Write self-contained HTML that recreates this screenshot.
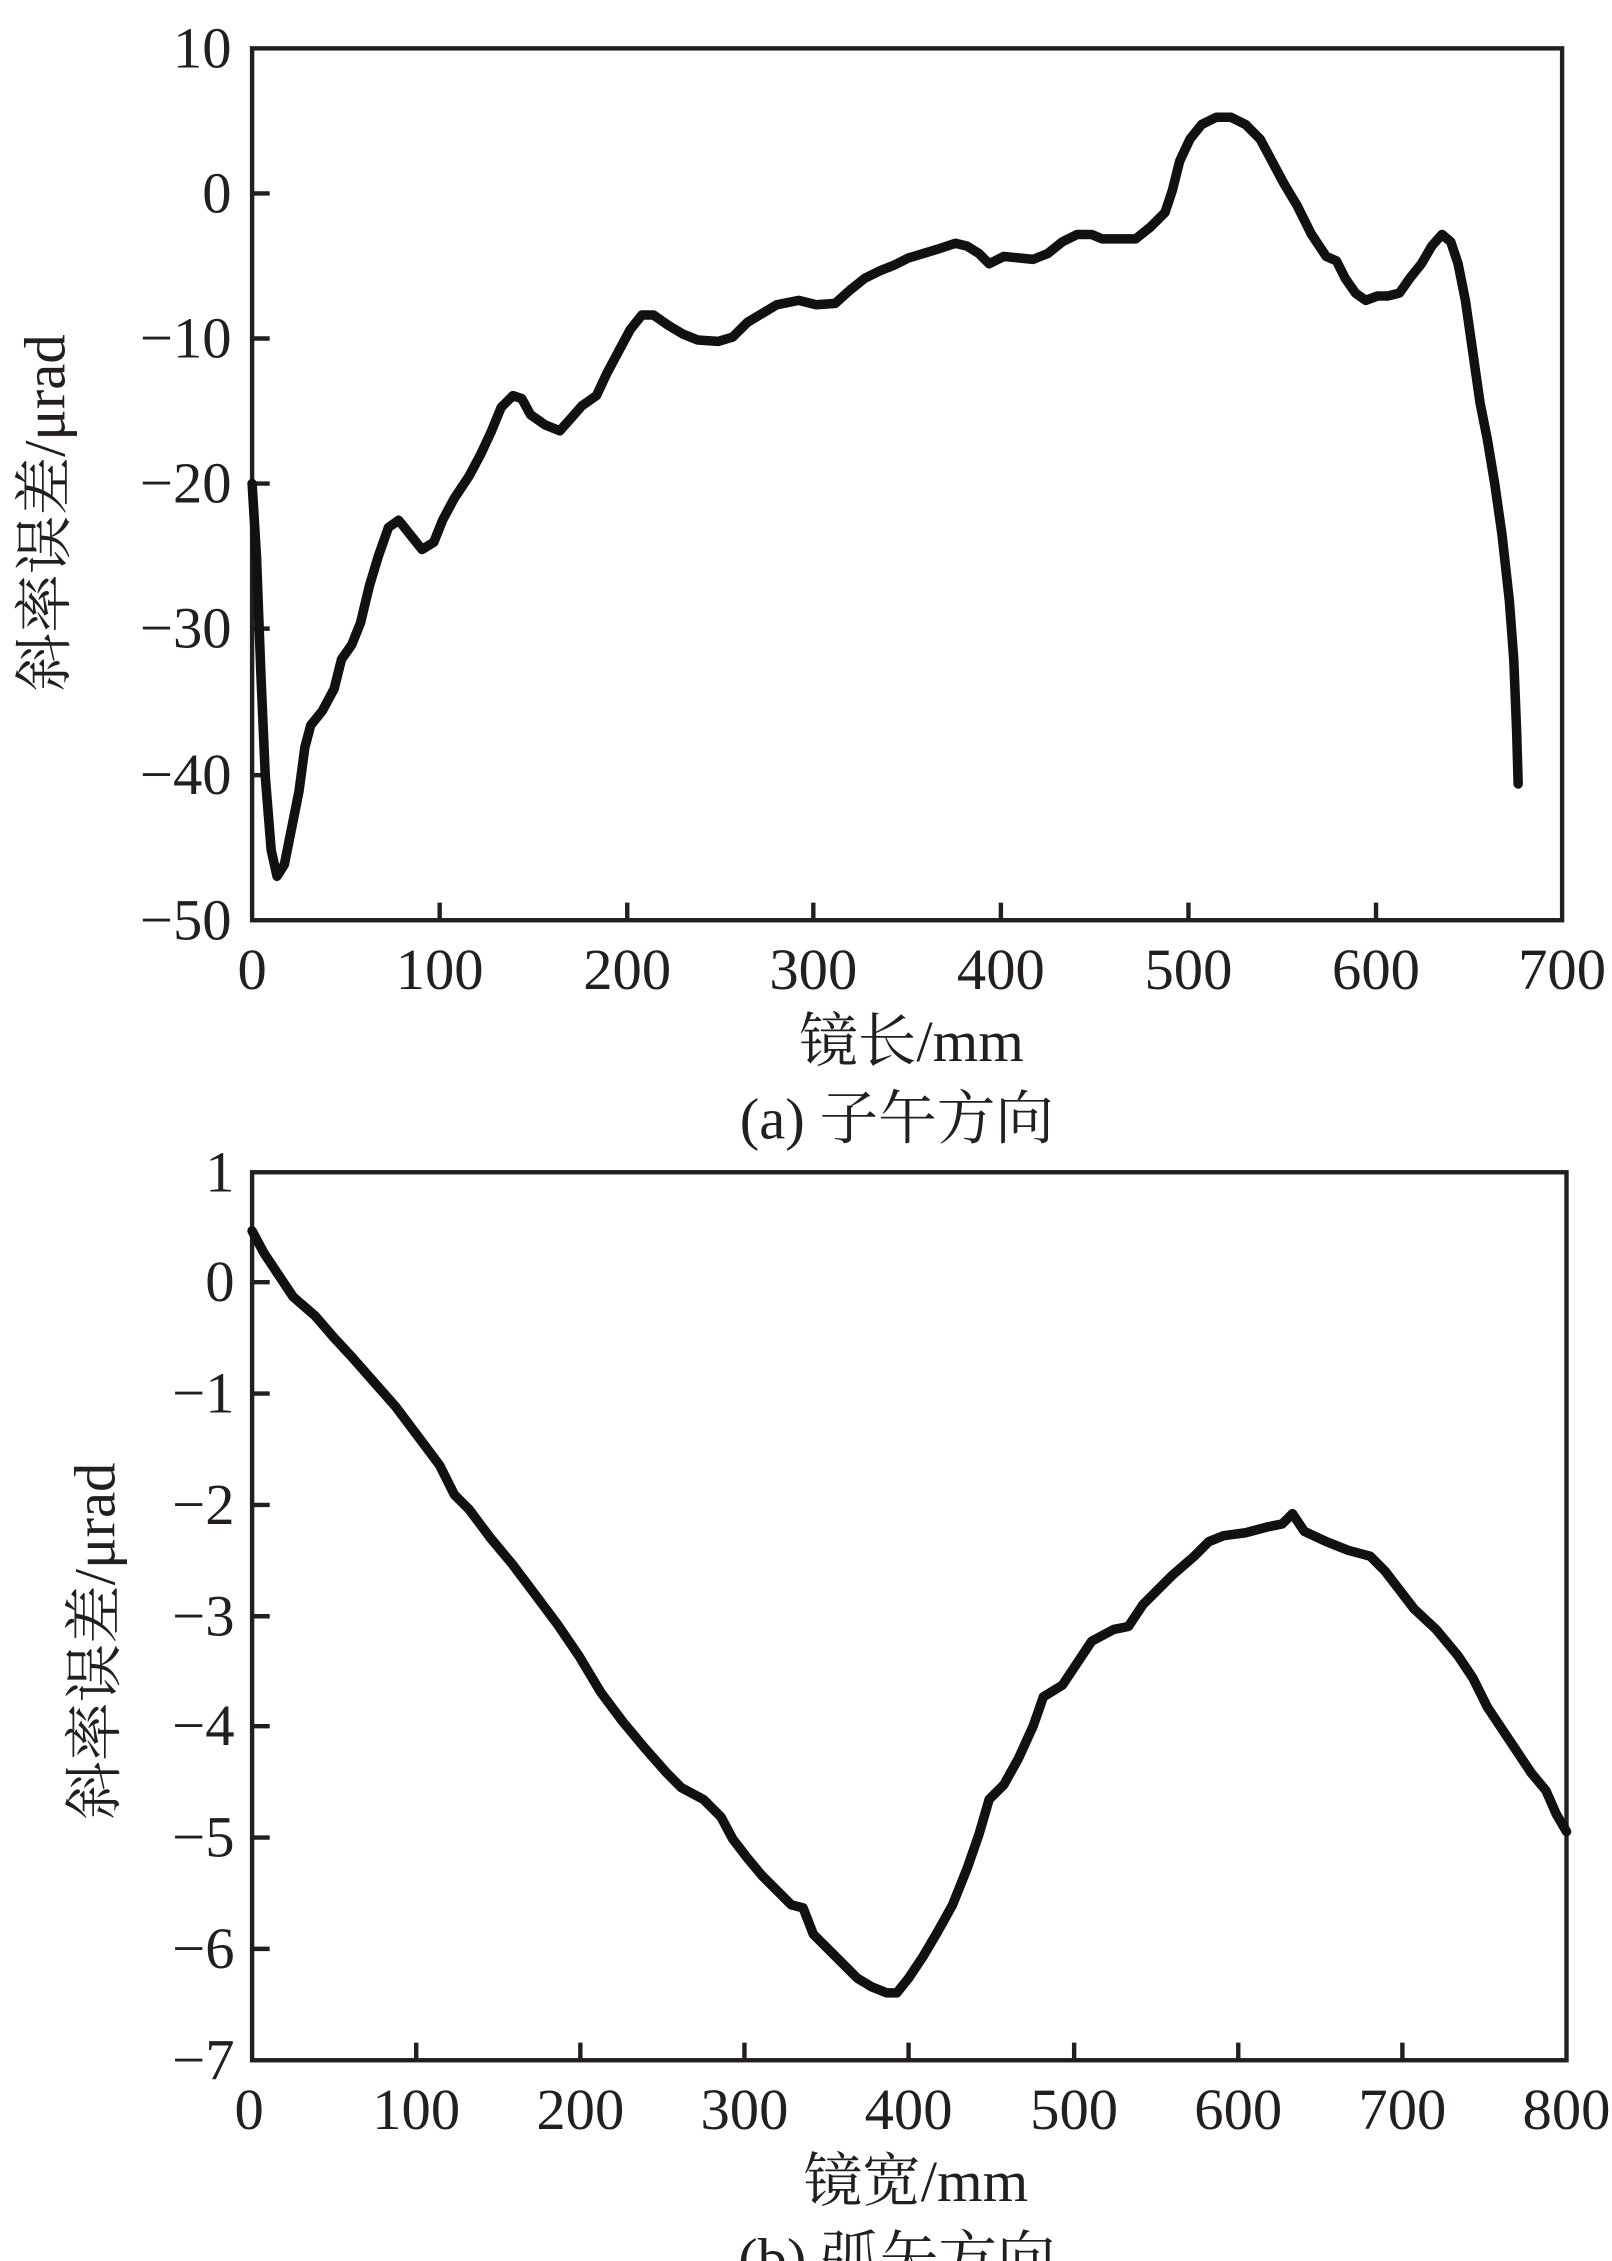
<!DOCTYPE html>
<html><head><meta charset="utf-8"><style>html,body{margin:0;padding:0;background:#fff}svg{display:block}</style></head>
<body>
<svg width="1612" height="2261" viewBox="0 0 1100 1543" xmlns="http://www.w3.org/2000/svg" font-family="'Liberation Serif','Noto Serif CJK SC',serif" fill="#231f20">
<g stroke="#231f20" stroke-width="3" fill="none">
<rect x="172" y="33" width="894" height="595"/>
<path d="M172,132h12M172,231h12M172,330h12M172,429h12M172,529h12M300,628v-12M428,628v-12M555,628v-12M683,628v-12M811,628v-12M939,628v-12"/>
<rect x="172" y="800" width="897" height="606"/>
<path d="M172,875h12M172,951h12M172,1027h12M172,1103h12M172,1178h12M172,1254h12M172,1330h12M284,1406v-12M396,1406v-12M508,1406v-12M620,1406v-12M733,1406v-12M845,1406v-12M957,1406v-12"/>
</g>
<g stroke="#111" stroke-width="6.5" fill="none" stroke-linejoin="round" stroke-linecap="round">
<polyline points="172,330 175,380 178,460 181,530 185,580 189,598 194,590 199,565 204,540 208,510 212,495 220,485 228,470 233,450 240,440 246,425 252,400 258,380 265,360 272,355 280,365 288,375 296,370 302,355 310,340 320,325 328,310 335,295 342,278 350,270 356,272 362,283 372,290 382,294 390,285 397,277 407,270 414,255 422,240 430,225 438,215 446,215 456,222 466,228 476,232 490,233 500,230 510,220 520,214 530,208 545,205 557,208 570,207 580,198 590,190 600,185 610,181 620,176 630,173 640,170 652,166 660,168 668,173 675,180 685,175 695,176 705,177 715,173 725,165 735,160 745,160 752,163 765,163 775,163 785,155 795,145 800,130 805,110 812,95 820,85 830,80 840,80 850,85 860,95 868,110 876,125 885,140 895,160 905,175 912,178 918,190 925,200 932,205 940,202 947,202 955,200 962,190 970,180 977,168 984,160 990,165 995,180 1000,205 1005,240 1010,275 1015,300 1020,330 1025,365 1030,410 1033,450 1035,500 1036,535"/>
<polyline points="172,840 180,855 190,870 200,885 215,898 228,913 240,926 255,943 270,960 285,980 300,1000 310,1020 320,1030 335,1050 350,1068 365,1088 380,1108 395,1130 410,1155 425,1175 440,1193 455,1210 465,1220 480,1228 492,1240 500,1255 510,1268 520,1280 530,1290 540,1300 548,1302 555,1320 565,1330 575,1340 585,1350 595,1356 605,1360 612,1360 620,1350 630,1335 640,1318 650,1300 660,1275 668,1252 675,1228 685,1218 695,1200 705,1178 712,1158 725,1150 735,1135 745,1120 760,1112 770,1110 780,1095 790,1085 800,1075 815,1062 825,1052 835,1048 850,1046 865,1042 875,1040 882,1033 890,1045 905,1052 920,1058 935,1062 945,1072 955,1085 965,1098 980,1112 995,1130 1005,1145 1015,1165 1025,1180 1035,1195 1045,1210 1055,1222 1062,1238 1069,1250"/>
</g>
<g font-size="40" text-anchor="end">
<text x="158" y="46">10</text><text x="158" y="145">0</text><text x="158" y="244">−10</text><text x="158" y="343">−20</text><text x="158" y="442">−30</text><text x="158" y="542">−40</text><text x="158" y="641">−50</text>
<text x="160" y="813">1</text><text x="160" y="888">0</text><text x="160" y="964">−1</text><text x="160" y="1040">−2</text><text x="160" y="1116">−3</text><text x="160" y="1191">−4</text><text x="160" y="1267">−5</text><text x="160" y="1343">−6</text><text x="160" y="1419">−7</text>
</g>
<g font-size="40" text-anchor="middle">
<text x="172" y="675">0</text><text x="300" y="675">100</text><text x="428" y="675">200</text><text x="555" y="675">300</text><text x="683" y="675">400</text><text x="811" y="675">500</text><text x="939" y="675">600</text><text x="1066" y="675">700</text>
<text x="170" y="1453">0</text><text x="284" y="1453">100</text><text x="396" y="1453">200</text><text x="508" y="1453">300</text><text x="620" y="1453">400</text><text x="733" y="1453">500</text><text x="845" y="1453">600</text><text x="957" y="1453">700</text><text x="1069" y="1453">800</text>
<text x="622" y="724">镜长/mm</text>
<text x="612" y="777">(a) 子午方向</text>
<text x="625" y="1502">镜宽/mm</text>
<text x="612" y="1555">(b) 弧矢方向</text>
<text transform="translate(44,350) rotate(-90)">斜率误差/μrad</text>
<text transform="translate(78,1120) rotate(-90)">斜率误差/μrad</text>
</g>
</svg>
</body></html>
